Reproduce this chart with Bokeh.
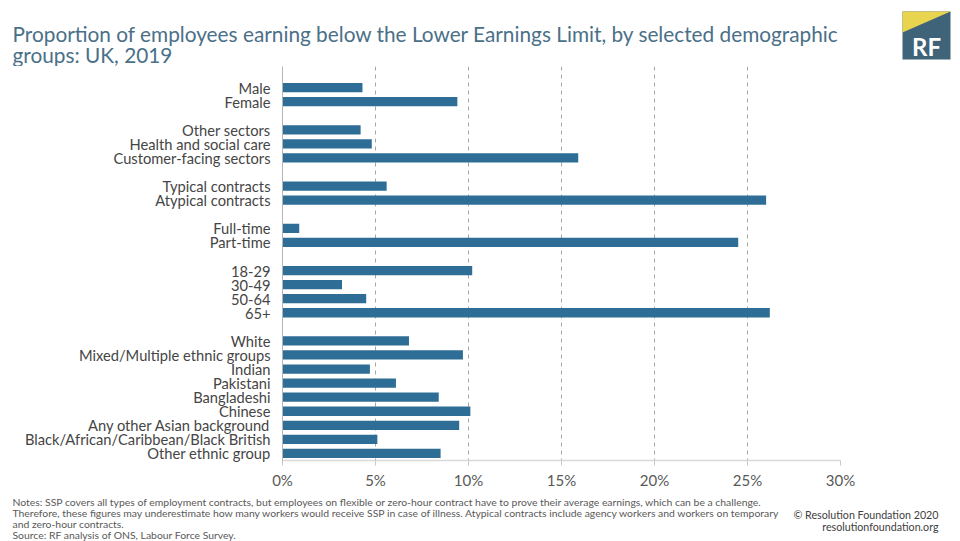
from bokeh.plotting import figure
from bokeh.models import Range1d, FixedTicker
from bokeh.layouts import column
from bokeh.core.properties import value
from bokeh.embed import file_html
from bokeh.resources import INLINE

# ---- data ----
categories = ["Male", "Female",
              "Other sectors", "Health and social care", "Customer-facing sectors",
              "Typical contracts", "Atypical contracts",
              "Full-time", "Part-time",
              "18-29", "30-49", "50-64", "65+",
              "White", "Mixed/Multiple ethnic groups", "Indian", "Pakistani",
              "Bangladeshi", "Chinese", "Any other Asian background",
              "Black/African/Caribbean/Black British", "Other ethnic group"]
values = [4.3, 9.4,
          4.2, 4.8, 15.9,
          5.6, 26.0,
          0.9, 24.5,
          10.2, 3.2, 4.5, 26.2,
          6.8, 9.7, 4.7, 6.1, 8.4, 10.1, 9.5, 5.1, 8.5]
group_sizes = [2, 3, 2, 2, 4, 9]
x_ticks = [0, 5, 10, 15, 20, 25, 30]
x_tick_labels = ["0%", "5%", "10%", "15%", "20%", "25%", "30%"]

title_lines = ["Proportion of employees earning below the Lower Earnings Limit, by selected demographic",
               "groups: UK, 2019"]
notes_lines = ["Notes: SSP covers all types of employment contracts, but employees on flexible or zero-hour contract have to prove their average earnings, which can be a challenge.",
               "Therefore, these figures may underestimate how many workers would receive SSP in case of illness. Atypical contracts include agency workers and workers on temporary",
               "and zero-hour contracts.",
               "Source: RF analysis of ONS, Labour Force Survey."]
credit_lines = ["\u00a9 Resolution Foundation 2020", "resolutionfoundation.org"]

# slot positions with a blank slot between groups
positions = []
slot = 0
for n in group_sizes:
    for k in range(n):
        positions.append(slot)
        slot += 1
    slot += 1
n_slots = positions[-1]

BAR = "#2e6e96"
FONT = "Lato"
W = 960
TOP_H = 66
MAIN_H = 429
BOT_H = 541 - TOP_H - MAIN_H


def blank_fig(h):
    f = figure(width=W, height=h, output_backend="svg", toolbar_location=None,
               x_range=Range1d(0, W), y_range=Range1d(h, 0),
               x_axis_type=None, y_axis_type=None,
               min_border=0, min_border_left=0, min_border_right=0,
               min_border_top=0, min_border_bottom=0)
    f.outline_line_color = None
    f.background_fill_color = "white"
    f.border_fill_color = "white"
    f.frame_align = False
    return f


# ---- header: title + logo ----
top = blank_fig(TOP_H)
top.text(x=[12, 12], y=[33, 54], text=title_lines, text_font=value(FONT),
         text_font_size="20.8px", text_color="#4a7088",
         text_baseline="middle", text_align="left")
top.quad(left=[902], right=[950], top=[11], bottom=[59], fill_color="#3f6479", line_color=None)
top.patch(x=[902, 950, 902], y=[11, 11, 32], fill_color="#e8d44f", line_color=None)
top.text(x=[926], y=[46], text=["RF"], text_font=value(FONT), text_font_style="bold",
         text_font_size="24px", text_color="white",
         text_baseline="middle", text_align="center")

# ---- main chart ----
FL, FR = 282, 840
p = figure(width=W, height=MAIN_H, output_backend="svg", toolbar_location=None,
           x_range=Range1d(0, 30), y_range=Range1d(n_slots + 0.5, -1.5),
           min_border_left=FL, min_border_right=W - FR,
           min_border_top=0, min_border_bottom=MAIN_H - 394)
p.outline_line_color = None
p.background_fill_color = "white"
p.border_fill_color = "white"
p.frame_align = False

p.hbar(y=positions, right=values, left=0, height=0.66, color=BAR, line_color=None)

xa = p.xaxis[0]
xa.ticker = FixedTicker(ticks=x_ticks)
xa.major_label_overrides = {t: l for t, l in zip(x_ticks, x_tick_labels)}
xa.axis_line_color = "#d9d9d9"
xa.axis_line_width = 1.5
xa.major_tick_line_color = "#c8c8c8"
xa.major_tick_out = 5
xa.major_tick_in = 0
xa.minor_tick_line_color = None
xa.major_label_text_font = FONT
xa.major_label_text_font_size = "15px"
xa.major_label_text_color = "#595959"
xa.major_label_standoff = 5

ya = p.yaxis[0]
ya.ticker = FixedTicker(ticks=positions)
ya.major_label_overrides = {pos: c for pos, c in zip(positions, categories)}
ya.axis_line_color = "#b5b5b5"
ya.major_tick_line_color = None
ya.minor_tick_line_color = None
ya.major_tick_out = 0
ya.major_tick_in = 0
ya.major_label_text_font = FONT
ya.major_label_text_font_size = "14.7px"
ya.major_label_text_color = "#454545"
ya.major_label_standoff = 12

p.ygrid.grid_line_color = None
p.xgrid.ticker = FixedTicker(ticks=x_ticks[1:])
p.xgrid.grid_line_color = "#a6a6a6"
p.xgrid.grid_line_dash = "4 4"
p.xgrid.grid_line_width = 1

# ---- footer: notes + credits ----
bot = blank_fig(BOT_H)
y0 = 501.5 - (TOP_H + MAIN_H)
bot.text(x=[12] * len(notes_lines), y=[y0 + 11 * i for i in range(len(notes_lines))],
         text=notes_lines, text_font=value(FONT), text_font_size="10.4px",
         text_color="#595959", text_baseline="middle", text_align="left")
y1 = 514 - (TOP_H + MAIN_H)
bot.text(x=[938] * 2, y=[y1, y1 + 12], text=credit_lines, text_font=value(FONT),
         text_font_size="10.7px", text_color="#404040",
         text_baseline="middle", text_align="right")

layout = column(top, p, bot, spacing=0)
open("out.html", "w").write(file_html(layout, INLINE))
